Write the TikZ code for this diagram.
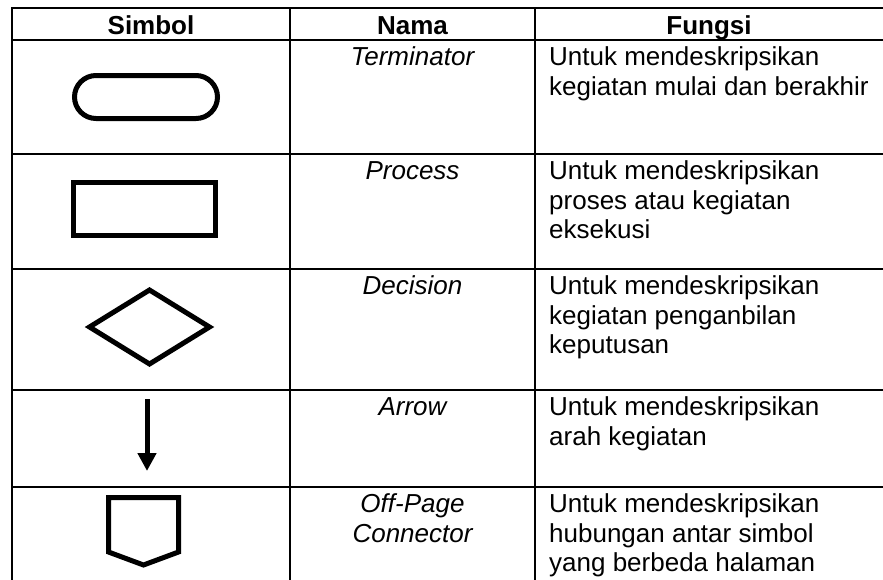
\documentclass[tikz,border=0pt]{standalone}
\usepackage{fontspec}
\setmainfont{Liberation Sans}
\usetikzlibrary{arrows.meta}
\begin{document}
\begin{tikzpicture}[x=1pt,y=-1pt,
  grid/.style={line width=1.3pt, line cap=rect},
  sym/.style={line width=5pt},
  hd/.style={inner sep=0pt, anchor=base, font=\fontsize{26}{29.5}\selectfont\bfseries},
  nm/.style={inner sep=0pt, anchor=base, font=\fontsize{26}{29.5}\selectfont\itshape},
  fn/.style={inner sep=0pt, anchor=base west, font=\fontsize{26}{29.5}\selectfont}]
\useasboundingbox (0,0) rectangle (883,579);
% table grid
\foreach \y in {8,40,154,269,390,487} \draw[grid] (12,\y) -- (884,\y);
\foreach \x in {12,290,535} \draw[grid] (\x,8) -- (\x,580);
% header
\node[hd] (hSimbol) at (151,34) {Simbol};
\node[hd] (hNama) at (412.5,34) {Nama};
\node[hd] (hFungsi) at (709,34) {Fungsi};
% row 1: terminator
\node[sym, draw, rectangle, rounded corners=21.5pt, minimum width=143pt, minimum height=43pt, inner sep=0pt] (term) at (146,97) {};
\node[nm] (nTerm) at (412.5,65.5) {Terminator};
\node[fn] (f1a) at (549,65.5) {Untuk mendeskripsikan};
\node[fn] (f1b) at (549,95) {kegiatan mulai dan berakhir};
% row 2: process
\node[sym, draw, rectangle, minimum width=142pt, minimum height=52.5pt, inner sep=0pt] (proc) at (144.4,209) {};
\node[nm] (nProc) at (412.5,179.5) {Process};
\node[fn] (f2a) at (549,179.5) {Untuk mendeskripsikan};
\node[fn] (f2b) at (549,209) {proses atau kegiatan};
\node[fn] (f2c) at (549,238.5) {eksekusi};
% row 3: decision
\draw[sym] (89.5,327) -- (149.5,290) -- (209.5,327) -- (149.5,364) -- cycle;
\node[nm] (nDec) at (412.5,294.5) {Decision};
\node[fn] (f3a) at (549,294.5) {Untuk mendeskripsikan};
\node[fn] (f3b) at (549,324) {kegiatan penganbilan};
\node[fn] (f3c) at (549,353.5) {keputusan};
% row 4: arrow
\coordinate (arrS) at (147,399);
\coordinate (arrE) at (147,471);
\draw[sym, -{Triangle[width=18pt,length=18pt]}] (arrS) -- (arrE);
\node[nm] (nArr) at (412.5,415.5) {Arrow};
\node[fn] (f4a) at (549,415.5) {Untuk mendeskripsikan};
\node[fn] (f4b) at (549,445) {arah kegiatan};
% row 5: off-page connector
\draw[sym] (108.5,497.5) -- (178.5,497.5) -- (178.5,552) -- (143.5,565) -- (108.5,552) -- cycle;
\node[nm] (nOff1) at (412.5,512.5) {Off-Page};
\node[nm] (nOff2) at (412.5,542) {Connector};
\node[fn] (f5a) at (549,512.5) {Untuk mendeskripsikan};
\node[fn] (f5b) at (549,542) {hubungan antar simbol};
\node[fn] (f5c) at (549,571.5) {yang berbeda halaman};
\end{tikzpicture}
\end{document}
